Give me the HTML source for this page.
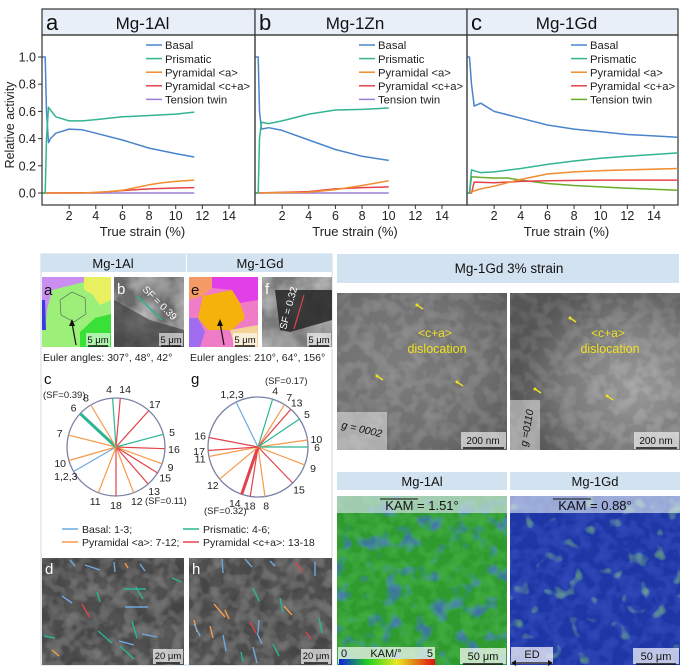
<!DOCTYPE html>
<html><head><meta charset="utf-8">
<style>
html,body{margin:0;padding:0;background:#fff;}
svg{display:block;font-family:"Liberation Sans",Arial,sans-serif;}
</style></head>
<body>
<svg id="fig" width="680" height="667" viewBox="0 0 680 667" xmlns="http://www.w3.org/2000/svg">
<defs>
  <filter id="grain" x="0" y="0" width="100%" height="100%">
    <feTurbulence type="fractalNoise" baseFrequency="0.045" numOctaves="3" seed="3" result="n"/>
    <feColorMatrix in="n" type="matrix" values="0 0 0 0 0.5  0 0 0 0 0.5  0 0 0 0 0.5  0.9 0.9 0.9 0 -1.0" result="g"/>
    <feComposite in="g" in2="SourceGraphic" operator="atop"/>
  </filter>
  <filter id="grain2" x="0" y="0" width="100%" height="100%">
    <feTurbulence type="fractalNoise" baseFrequency="0.08" numOctaves="2" seed="7" result="n"/>
    <feColorMatrix in="n" type="matrix" values="0 0 0 0 0.1  0 0 0 0 0.1  0 0 0 0 0.1  1.6 0 0 0 -0.7" result="g"/>
    <feComposite in="g" in2="SourceGraphic" operator="atop"/>
  </filter>
  <filter id="kamAl" x="0" y="0" width="100%" height="100%">
    <feTurbulence type="fractalNoise" baseFrequency="0.06" numOctaves="2" seed="11" result="n"/>
    <feColorMatrix in="n" type="matrix" values="0 0 0 0 0.1  0 0 0 0 0.25  0 0 0 0 0.85  3 0 0 0 -1.6" result="g"/>
    <feComposite in="g" in2="SourceGraphic" operator="atop"/>
  </filter>
  <filter id="kamGd" x="0" y="0" width="100%" height="100%">
    <feTurbulence type="fractalNoise" baseFrequency="0.06" numOctaves="2" seed="5" result="n"/>
    <feColorMatrix in="n" type="matrix" values="0 0 0 0 0.3  0 0 0 0 0.85  0 0 0 0 0.25  3 0 0 0 -1.9" result="g"/>
    <feComposite in="g" in2="SourceGraphic" operator="atop"/>
  </filter>
  <radialGradient id="temA" cx="0.4" cy="0.45" r="0.75"><stop offset="0" stop-color="#b4b4b4"/><stop offset="0.6" stop-color="#a2a2a2"/><stop offset="1" stop-color="#858585"/></radialGradient>
  <radialGradient id="temB" cx="0.75" cy="0.6" r="0.7"><stop offset="0" stop-color="#dcdcdc"/><stop offset="0.6" stop-color="#b0b0b0"/><stop offset="1" stop-color="#7c7c7c"/></radialGradient>
  <linearGradient id="cbar" x1="0" x2="1"><stop offset="0" stop-color="#1020e0"/><stop offset="0.3" stop-color="#20d020"/><stop offset="0.6" stop-color="#e8e820"/><stop offset="1" stop-color="#e01010"/></linearGradient>
</defs>
<g id="topGroup"></g>
<g id="bottomGroup"></g>
</svg>
<script>
const NS="http://www.w3.org/2000/svg";
function mk(parent,tag,attrs,text){const e=document.createElementNS(NS,tag);for(const k in attrs)e.setAttribute(k,attrs[k]);if(text!==undefined)e.textContent=text;parent.appendChild(e);return e;}

// ===== Chart data =====
const seriesNames=["Basal","Prismatic","Pyramidal <a>","Pyramidal <c+a>","Tension twin"];
const al_basal_x=[0,0.2,0.3,0.45,0.6,1,2,3,4,6,8,10,11.4];
const al_basal_y=[1.0,1.0,0.6,0.37,0.4,0.44,0.47,0.465,0.44,0.39,0.33,0.29,0.265];
const al_prism_x=[0,0.2,0.3,0.45,0.6,1,2,3,4,6,8,10,11.4];
const al_prism_y=[0,0,0.4,0.63,0.61,0.56,0.53,0.53,0.54,0.56,0.57,0.58,0.595];
const al_pyra_x=[0,3,5,6,7,8,9,10,11.4];
const al_pyra_y=[0,0,0.01,0.02,0.04,0.06,0.075,0.085,0.095];
const al_pyrca_x=[0,4,6,8,10,11.4];
const al_pyrca_y=[0,0.003,0.018,0.03,0.037,0.04];
const al_twin_x=[0,11.4];
const al_twin_y=[0,0];

const zn_basal_x=[0,0.2,0.3,0.45,1,2,4,6,8,10];
const zn_basal_y=[1,1,0.6,0.47,0.48,0.46,0.39,0.32,0.27,0.24];
const zn_prism_x=[0,0.2,0.3,0.45,1,2,4,6,8,10];
const zn_prism_y=[0,0,0.4,0.52,0.51,0.53,0.58,0.61,0.615,0.625];
const zn_pyra_x=[0,4,6,8,10];
const zn_pyra_y=[0,0.005,0.025,0.055,0.09];
const zn_pyrca_x=[0,4,6,8,10];
const zn_pyrca_y=[0,0.01,0.03,0.04,0.045];
const zn_twin_x=[0,10];
const zn_twin_y=[0,0];

const gd_basal_x=[0,0.15,0.3,0.5,1,2,4,6,8,10,12,15.8];
const gd_basal_y=[1.0,1.0,0.8,0.64,0.66,0.6,0.55,0.5,0.47,0.45,0.43,0.41];
const gd_prism_x=[0,0.15,0.3,0.6,1,2,4,6,8,10,12,15.8];
const gd_prism_y=[0,0,0.17,0.16,0.15,0.155,0.18,0.21,0.235,0.255,0.27,0.295];
const gd_pyra_x=[0,1,2,4,6,8,10,12,15.8];
const gd_pyra_y=[0,0.03,0.05,0.1,0.14,0.155,0.165,0.17,0.18];
const gd_pyrca_x=[0,0.3,0.5,2,4,6,10,15.8];
const gd_pyrca_y=[0,0,0.08,0.075,0.085,0.09,0.095,0.095];
const gd_twin_x=[0,0.15,0.3,1,2,3,4,6,8,10,12,15.8];
const gd_twin_y=[0,0,0.12,0.115,0.11,0.11,0.095,0.07,0.055,0.045,0.035,0.02];

const xTicks=[2,4,6,8,10,12,14];
const yTicks=[0.0,0.2,0.4,0.6,0.8,1.0];
const yTickLabels=["0.0","0.2","0.4","0.6","0.8","1.0"];

const panels=[
 {name:"a",title:"Mg-1Al",x0:42,x1:255,twin:"#9b7fd6",
  s:[[al_basal_x,al_basal_y],[al_prism_x,al_prism_y],[al_pyra_x,al_pyra_y],[al_pyrca_x,al_pyrca_y],[al_twin_x,al_twin_y]]},
 {name:"b",title:"Mg-1Zn",x0:255,x1:467,twin:"#9b7fd6",
  s:[[zn_basal_x,zn_basal_y],[zn_prism_x,zn_prism_y],[zn_pyra_x,zn_pyra_y],[zn_pyrca_x,zn_pyrca_y],[zn_twin_x,zn_twin_y]]},
 {name:"c",title:"Mg-1Gd",x0:467,x1:678,twin:"#6aab2c",
  s:[[gd_basal_x,gd_basal_y],[gd_prism_x,gd_prism_y],[gd_pyra_x,gd_pyra_y],[gd_pyrca_x,gd_pyrca_y],[gd_twin_x,gd_twin_y]]}
];
const colors=["#4a85cc","#33b592","#f28d30","#e2434a"];
const yB=193,yT=57;
function ys(v){return yB-(yB-yT)*v;}
const topG=document.getElementById("topGroup");
mk(topG,"text",{x:14,y:125,"font-size":12.5,fill:"#222","text-anchor":"middle",transform:"rotate(-90 14 125)",},"Relative activity");
panels.forEach((p,pi)=>{
  const g=mk(topG,"g",{});
  const xs=v=>p.x0+0.5+v*13.32;
  mk(g,"rect",{x:p.x0,y:9,width:p.x1-p.x0,height:26,fill:"#e8eff8",stroke:"#333","stroke-width":1.2,});
  mk(g,"text",{x:p.x0+4,y:30,"font-size":22,fill:"#111",},p.name);
  mk(g,"text",{x:(p.x0+p.x1)/2-6,y:29,"font-size":17,fill:"#111","text-anchor":"middle",},p.title);
  mk(g,"rect",{x:p.x0,y:35,width:p.x1-p.x0,height:170,fill:"none",stroke:"#333","stroke-width":1.2,});
  xTicks.forEach(t=>{
    mk(g,"line",{x1:xs(t),x2:xs(t),y1:205,y2:209,stroke:"#333","stroke-width":1});
    const lab=mk(g,"text",{x:xs(t),y:220,"font-size":12.5,fill:"#222","text-anchor":"middle"},String(t));
    
    
  });
  mk(g,"text",{x:(p.x0+p.x1)/2-6,y:236,"font-size":13,fill:"#222","text-anchor":"middle",},"True strain (%)");
  if(pi===0){
    yTicks.forEach((t,i)=>{
      mk(g,"line",{x1:p.x0-4,x2:p.x0,y1:ys(t),y2:ys(t),stroke:"#333","stroke-width":1});
      const lab=mk(g,"text",{x:p.x0-6,y:ys(t)+4.5,"font-size":12.5,fill:"#222","text-anchor":"end"},yTickLabels[i]);
      
      
    });
  }
  const order=[4,3,2,0,1];
  order.forEach(si=>{
    const [X,Y]=p.s[si];
    const pts=X.map((x,i)=>xs(x).toFixed(1)+","+ys(Y[i]).toFixed(1)).join(" ");
    const pl=mk(g,"polyline",{points:pts,fill:"none",stroke:si===4?p.twin:colors[si],"stroke-width":1.5,"stroke-linejoin":"round"});
    
    
  });
  const lx=p.x0+104;
  seriesNames.forEach((n,i)=>{
    const yy=45+i*13.6;
    const c=i===4?p.twin:colors[i];
    const ln=mk(g,"line",{x1:lx,x2:lx+16,y1:yy,y2:yy,stroke:c,"stroke-width":1.5});
    
    
    const t=mk(g,"text",{x:lx+19,y:yy+4.2,"font-size":11.3,fill:"#222"},n);
    
    
  });
});

// ===== Bottom figure =====
const bot=document.getElementById("bottomGroup");
function rct(p,x,y,w,h,fill,name,extra){const a={x:x,y:y,width:w,height:h,fill:fill,};for(const k in extra||{})a[k]=extra[k];return mk(p,"rect",a);}
rct(bot,41,254,291,411,"#fff","left-panel",{stroke:"#c9d9ea","stroke-width":1});
rct(bot,41,254,145,18,"#d3e2f1","header-mg1al");
rct(bot,187,254,145,18,"#d3e2f1","header-mg1gd");
mk(bot,"text",{x:113,y:268,"font-size":13,"text-anchor":"middle",fill:"#111",},"Mg-1Al");
mk(bot,"text",{x:260,y:268,"font-size":13,"text-anchor":"middle",fill:"#111",},"Mg-1Gd");
const ga=mk(bot,"g",{});
rct(ga,42,277,69,70,"#9cf07a","ebsd-bg");
mk(ga,"polygon",{points:"42,277 84,277 84,282 52,290 47,310 45,330 42,330",fill:"#c98ef0"});
mk(ga,"polygon",{points:"42,300 45,300 46,330 42,330",fill:"#3a3ae0"});
mk(ga,"polygon",{points:"84,277 111,277 111,300 100,305 92,294 84,290",fill:"#e8f060"});
mk(ga,"polygon",{points:"80,332 95,318 111,314 111,347 80,347",fill:"#38e038"});
mk(ga,"polygon",{points:"60,300 72,292 85,298 86,314 74,322 61,315",fill:"none",stroke:"#555","stroke-width":0.6});
mk(ga,"text",{x:44,y:295,"font-size":15,fill:"#111"},"a");
rct(ga,86,333,24,13,"rgba(255,255,255,0.6)","scalebar-bg");
mk(ga,"text",{x:98,y:343,"font-size":9.5,"text-anchor":"middle",fill:"#111"},"5 μm");
mk(ga,"line",{x1:88,x2:108,y1:346,y2:346,stroke:"#111","stroke-width":1.5});
mk(ga,"line",{x1:76,y1:345,x2:72,y2:323,stroke:"#111","stroke-width":1.2});
mk(ga,"polygon",{points:"72,319 69,326 75,326",fill:"#111"});
const gb=mk(bot,"g",{});
rct(gb,114,277,70,70,"#6a6a6a","sem-bg",{filter:"url(#grain)"});
mk(gb,"polygon",{points:"114,300 150,320 184,330 184,347 114,347",fill:"#333",opacity:0.6});
mk(gb,"line",{x1:137,y1:296,x2:162,y2:320,stroke:"#2bb592","stroke-width":1.5});
mk(gb,"text",{x:142,y:290,"font-size":10,fill:"#fff",transform:"rotate(45 142 290)"},"SF = 0.39");
mk(gb,"text",{x:117,y:294,"font-size":15,fill:"#fff"},"b");
rct(gb,159,333,24,13,"rgba(255,255,255,0.6)","scalebar-bg");
mk(gb,"text",{x:171,y:343,"font-size":9.5,"text-anchor":"middle",fill:"#111"},"5 μm");
mk(gb,"line",{x1:161,x2:181,y1:346,y2:346,stroke:"#111","stroke-width":1.5});
const ge=mk(bot,"g",{});
rct(ge,189,277,69,70,"#f07cc8","ebsd-bg");
mk(ge,"polygon",{points:"189,277 212,277 212,288 203,296 189,300",fill:"#f59a66"});
mk(ge,"polygon",{points:"212,277 258,277 258,300 240,303 232,290 212,288",fill:"#e13fe8"});
mk(ge,"polygon",{points:"203,296 232,290 240,303 245,318 232,330 208,330 198,318",fill:"#f5b20a"});
mk(ge,"polygon",{points:"189,318 198,318 205,332 200,347 189,347",fill:"#a06cf0"});
mk(ge,"polygon",{points:"230,330 258,325 258,347 235,347",fill:"#f3d29a"});
mk(ge,"text",{x:191,y:295,"font-size":15,fill:"#111"},"e");
rct(ge,233,333,24,13,"rgba(255,255,255,0.6)","scalebar-bg");
mk(ge,"text",{x:245,y:343,"font-size":9.5,"text-anchor":"middle",fill:"#111"},"5 μm");
mk(ge,"line",{x1:235,x2:255,y1:346,y2:346,stroke:"#111","stroke-width":1.5});
mk(ge,"line",{x1:224,y1:345,x2:220,y2:323,stroke:"#111","stroke-width":1.2});
mk(ge,"polygon",{points:"220,319 217,326 223,326",fill:"#111"});
const gf=mk(bot,"g",{});
rct(gf,262,277,70,70,"#7a7a7a","sem-bg",{filter:"url(#grain)"});
mk(gf,"polygon",{points:"275,290 332,290 332,320 290,332 280,330",fill:"#1e1e1e",opacity:0.8});
mk(gf,"line",{x1:304,y1:295,x2:294,y2:329,stroke:"#e2434a","stroke-width":1.2});
mk(gf,"text",{x:286,y:330,"font-size":10,fill:"#fff",transform:"rotate(-75 286 330)"},"SF = 0.32");
mk(gf,"text",{x:265,y:294,"font-size":15,fill:"#fff"},"f");
rct(gf,307,333,24,13,"rgba(255,255,255,0.6)","scalebar-bg");
mk(gf,"text",{x:319,y:343,"font-size":9.5,"text-anchor":"middle",fill:"#111"},"5 μm");
mk(gf,"line",{x1:309,x2:329,y1:346,y2:346,stroke:"#111","stroke-width":1.5});
mk(bot,"text",{x:43,y:361,"font-size":10.5,fill:"#222",},"Euler angles: 307°, 48°, 42°");
mk(bot,"text",{x:190,y:361,"font-size":10.5,fill:"#222",},"Euler angles: 210°, 64°, 156°");

// ===== Trace circles (data) =====
const slipColors={b:"#6fa8dc",p:"#2bb592",a:"#f59a4a",c:"#e2434a"};
const c_angles=[356,5,42,75,92,110,122,139,159,180,201,240,254,284,313,329];
const c_labels=["4","14","17","5","16","9","15","13","12","18","11","1,2,3","10","7","6","8"];
const c_types=["p","c","c","p","c","a","c","c","a","c","a","b","a","a","p","a"];
const g_angles=[334,17,32,41,56,82,90,111,136,172,189,199,230,259,266,281];
const g_labels=["1,2,3","4","7","13","5","10","6","9","15","8","18","14","12","11","17","16"];
const g_types=["b","p","a","c","p","a","p","a","c","a","c","c","a","a","c","c"];
function traceCircle(name,cx,cy,r,angles,labels,types,thick,letter,lx,ly,nudge){
  const g=mk(bot,"g",{});
  mk(g,"circle",{cx:cx,cy:cy,r:r,fill:"none",stroke:"#7a82a8","stroke-width":1.3});
  angles.forEach((a,i)=>{
    const rad=a*Math.PI/180;
    const ex=cx+r*Math.sin(rad),ey=cy-r*Math.cos(rad);
    const ln=mk(g,"line",{x1:cx,y1:cy,x2:ex.toFixed(1),y2:ey.toFixed(1),stroke:slipColors[types[i]],"stroke-width":labels[i]===thick?3:1.2});
    
    
    const nd=(nudge&&nudge[labels[i]])||[0,0];
    const tx=cx+(r+9)*Math.sin(rad)+nd[0],ty=cy-(r+9)*Math.cos(rad)+4+nd[1];
    const t=mk(g,"text",{x:tx.toFixed(1),y:ty.toFixed(1),"font-size":10.5,fill:"#222","text-anchor":"middle"},labels[i]);
    
    
  });
  mk(g,"text",{x:lx,y:ly,"font-size":15,fill:"#111"},letter);
  return g;
}
const gc=traceCircle("trace-circle-c",116,447,49,c_angles,c_labels,c_types,"6","c",44,384,{"4":[-3,0],"14":[4,0]});
mk(gc,"text",{x:43,y:398,"font-size":9.5,fill:"#222"},"(SF=0.39)");
mk(gc,"text",{x:145,y:504,"font-size":9.5,fill:"#222"},"(SF=0.11)");
const gg=traceCircle("trace-circle-g",258,447,50,g_angles,g_labels,g_types,"14","g",191,384,{"14":[-4,0],"18":[1,0]});
mk(gg,"text",{x:265,y:384,"font-size":9.5,fill:"#222"},"(SF=0.17)");
mk(gg,"text",{x:204,y:514,"font-size":9.5,fill:"#222"},"(SF=0.32)");
const leg=mk(bot,"g",{});
[[62,529,"b","Basal: 1-3;"],[183,529,"p","Prismatic: 4-6;"],[62,542,"a","Pyramidal <a>: 7-12;"],[183,542,"c","Pyramidal <c+a>: 13-18"]].forEach(e=>{
  mk(leg,"line",{x1:e[0],x2:e[0]+16,y1:e[1],y2:e[1],stroke:slipColors[e[2]],"stroke-width":1.5});
  mk(leg,"text",{x:e[0]+20,y:e[1]+4,"font-size":10.5,fill:"#222"},e[3]);
});
function semMap(name,x,y,w,h,letter,segs){
  const g=mk(bot,"g",{});
  rct(g,x,y,w,h,"#8c8c8c","sem-bg",{filter:"url(#grain)"});
  rct(g,x,y,w,h,"#000","sem-shade",{filter:"url(#grain2)",opacity:0.5});
  segs.forEach(s=>{mk(g,"line",{x1:x+s[0],y1:y+s[1],x2:x+s[2],y2:y+s[3],stroke:slipColors[s[4]],"stroke-width":1.4});});
  mk(g,"text",{x:x+3,y:y+16,"font-size":15,fill:"#fff"},letter);
  rct(g,x+w-31,y+h-16,30,15,"rgba(255,255,255,0.65)","scalebar-bg");
  mk(g,"text",{x:x+w-16,y:y+h-6,"font-size":9.5,"text-anchor":"middle",fill:"#111"},"20 μm");
  mk(g,"line",{x1:x+w-28,x2:x+w-4,y1:y+h-2,y2:y+h-2,stroke:"#111","stroke-width":1.5});
}
semMap("sem-image-d",42,558,142,107,"d",[[28,2,33,8,"b"],[43,7,58,12,"b"],[72,4,73,14,"b"],[83,5,86,10,"a"],[98,6,103,13,"b"],[82,31,104,31,"p"],[94,29,101,41,"p"],[55,34,58,44,"p"],[20,38,30,45,"b"],[83,49,106,49,"b"],[40,46,48,60,"c"],[90,63,95,80,"p"],[56,73,70,85,"p"],[100,76,115,79,"b"],[77,83,92,87,"b"],[78,88,92,101,"p"],[2,78,13,80,"p"],[10,92,17,98,"a"],[130,20,140,24,"p"]]);
semMap("sem-image-h",189,558,143,107,"h",[[33,1,34,15,"b"],[56,1,63,9,"b"],[81,3,86,8,"b"],[107,4,113,14,"c"],[126,4,126,18,"b"],[25,46,36,59,"a"],[36,52,40,61,"a"],[95,48,103,57,"a"],[91,40,94,54,"p"],[64,30,70,43,"p"],[5,62,8,74,"a"],[21,68,24,80,"a"],[34,77,37,93,"b"],[5,66,11,78,"b"],[70,62,69,75,"b"],[61,64,67,75,"c"],[68,75,73,86,"b"],[64,89,68,105,"b"],[84,86,90,98,"p"],[52,94,54,104,"p"],[117,74,122,81,"c"],[130,60,133,75,"p"]]);

// ===== Right panel =====
const rp=mk(bot,"g",{});
rct(rp,337,254,342,29,"#d3e2f1","header-tem");
mk(rp,"text",{x:509,y:273,"font-size":13.5,"text-anchor":"middle",fill:"#111"},"Mg-1Gd   3% strain");
function tem(name,x,grad,gx,glabel,grot,arrows){
  const g=mk(rp,"g",{});
  rct(g,x,293,170,157,"url(#"+grad+")","tem-bg");
  rct(g,x,293,170,157,"#000","tem-texture",{filter:"url(#grain2)",opacity:0.3});
  mk(g,"text",{x:x+98,y:337,"font-size":12,"text-anchor":"middle",fill:"#f0e020"},"<c+a>");
  mk(g,"text",{x:x+100,y:353,"font-size":12.5,"text-anchor":"middle",fill:"#f0e020"},"dislocation");
  arrows.forEach(a=>{mk(g,"line",{x1:x+a[0]+6,y1:a[1]+4,x2:x+a[0],y2:a[1],stroke:"#f0e020","stroke-width":1.5});mk(g,"circle",{cx:x+a[0],cy:a[1],r:1.5,fill:"#f0e020"});});
  rct(g,x+124,432,45,17,"rgba(255,255,255,0.6)","scalebar-bg");
  mk(g,"text",{x:x+146,y:444,"font-size":10,"text-anchor":"middle",fill:"#111"},"200 nm");
  mk(g,"line",{x1:x+126,x2:x+167,y1:448,y2:448,stroke:"#111","stroke-width":1.5});
  rct(g,x,gx[0],gx[1],gx[2],"rgba(255,255,255,0.45)","g-vector-box");
  mk(g,"text",{x:glabel[0],y:glabel[1],"font-size":10.5,fill:"#111","font-style":"italic",transform:"rotate("+grot+" "+glabel[0]+" "+glabel[1]+")"},glabel[2]);
}
tem("tem-image-left",337,"temA",[412,50,38],[341,428,"g = 0002"],13,[[80,305],[40,376],[120,382]]);
tem("tem-image-right",510,"temB",[400,30,50],[527,447,"g =0110"],-80,[[60,318],[25,389],[97,396]]);
function kam(name,x,base,filt,title,val){
  const g=mk(bot,"g",{});
  rct(g,x,472,170,18,"#d3e2f1","kam-header");
  mk(g,"text",{x:x+85,y:486,"font-size":13,"text-anchor":"middle",fill:"#111"},title);
  rct(g,x,496,170,169,base,"kam-map",{filter:"url(#"+filt+")"});
  rct(g,x,496,170,169,"#000","kam-boundaries",{filter:"url(#grain2)",opacity:0.25});
  rct(g,x,496,170,17,"rgba(220,230,240,0.65)","kam-value-band");
  mk(g,"text",{x:x+85,y:510,"font-size":13,"text-anchor":"middle",fill:"#111"},"KAM = "+val+"°");
  mk(g,"line",{x1:x+43,x2:x+81,y1:499,y2:499,stroke:"#111","stroke-width":1});
  rct(g,x+123,648,46,16,"rgba(255,255,255,0.7)","scalebar-bg");
  mk(g,"text",{x:x+146,y:660,"font-size":11,"text-anchor":"middle",fill:"#111"},"50 μm");
  mk(g,"line",{x1:x+126,x2:x+166,y1:664,y2:664,stroke:"#111","stroke-width":1.5});
  return g;
}
const ka=kam("kam-map-al",337,"#3fd040","kamAl","Mg-1Al","1.51");
rct(ka,338,647,97,17,"rgba(255,255,255,0.7)","colorbar-bg");
rct(ka,339,659,96,6,"url(#cbar)","kam-colorbar");
mk(ka,"text",{x:341,y:657,"font-size":11,fill:"#111"},"0");
mk(ka,"text",{x:386,y:657,"font-size":11,"text-anchor":"middle",fill:"#111"},"KAM/°");
mk(ka,"text",{x:433,y:657,"font-size":11,"text-anchor":"end",fill:"#111"},"5");
const kg=kam("kam-map-gd",510,"#2a48e0","kamGd","Mg-1Gd","0.88");
rct(kg,511,647,42,17,"rgba(255,255,255,0.7)","ed-bg");
mk(kg,"text",{x:532,y:658,"font-size":11,"text-anchor":"middle",fill:"#111"},"ED");
mk(kg,"line",{x1:514,x2:550,y1:663,y2:663,stroke:"#111","stroke-width":1.2});
mk(kg,"polygon",{points:"511,663 516,660 516,666",fill:"#111"});
mk(kg,"polygon",{points:"553,663 548,660 548,666",fill:"#111"});
</script>
</body></html>
